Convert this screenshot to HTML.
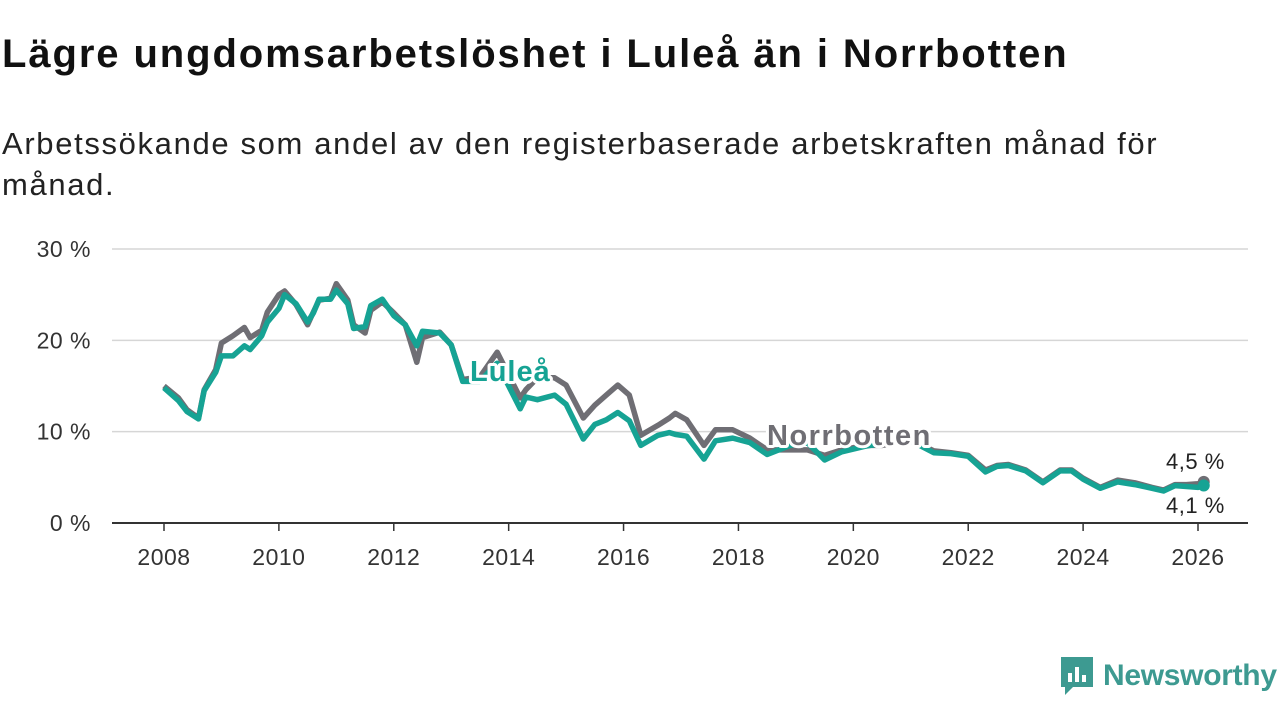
<!DOCTYPE html>
<html><head><meta charset="utf-8">
<style>
body{margin:0;width:1280px;height:720px;background:#fff;font-family:"Liberation Sans",sans-serif;overflow:hidden;position:relative}
h1{position:absolute;left:2px;top:32px;margin:0;font-size:40px;font-weight:bold;color:#111;letter-spacing:1.9px;white-space:nowrap}
.sub{position:absolute;left:2px;top:123px;font-size:31px;color:#222;line-height:41px;width:1200px;letter-spacing:1.65px}
svg{position:absolute;left:0;top:0}
</style></head><body>
<h1>Lägre ungdomsarbetslöshet i Luleå än i Norrbotten</h1>
<div class="sub">Arbetssökande som andel av den registerbaserade arbetskraften månad för månad.</div>
<svg width="1280" height="720" id="chart"></svg>
<script>
const times=[2008.0,2008.25,2008.4,2008.6,2008.7,2008.9,2009.0,2009.2,2009.4,2009.5,2009.7,2009.8,2010.0,2010.1,2010.3,2010.5,2010.6,2010.7,2010.9,2011.0,2011.2,2011.3,2011.5,2011.6,2011.8,2012.0,2012.2,2012.4,2012.5,2012.8,2013.0,2013.2,2013.5,2013.8,2014.2,2014.3,2014.5,2014.8,2015.0,2015.3,2015.5,2015.7,2015.9,2016.1,2016.3,2016.6,2016.8,2016.9,2017.1,2017.4,2017.6,2017.9,2018.2,2018.5,2018.9,2019.2,2019.5,2019.8,2020.2,2020.5,2021.0,2021.4,2021.7,2022.0,2022.3,2022.5,2022.7,2023.0,2023.3,2023.6,2023.8,2024.0,2024.3,2024.6,2024.9,2025.2,2025.4,2025.6,2025.8,2026.0,2026.1];
const norrbotten=[15.0,13.7,12.4,11.5,14.6,16.8,19.7,20.5,21.4,20.3,21.1,23.1,25.0,25.4,23.9,21.7,23.1,24.4,24.6,26.2,24.4,21.7,20.8,23.3,24.2,23.0,21.7,17.6,20.3,20.9,19.5,15.7,16.0,18.7,13.7,14.6,15.9,15.9,15.1,11.5,12.9,14.0,15.1,14.0,9.6,10.7,11.5,12.0,11.3,8.5,10.2,10.2,9.3,8.0,8.0,8.0,7.4,8.0,8.5,8.5,9.1,7.9,7.7,7.4,5.8,6.3,6.4,5.8,4.5,5.8,5.8,4.9,3.9,4.7,4.4,3.9,3.6,4.2,4.2,4.3,4.5];
const lulea=[14.8,13.4,12.2,11.4,14.5,16.5,18.3,18.3,19.4,19.0,20.5,22.0,23.5,25.0,24.0,22.0,23.0,24.5,24.5,25.5,24.0,21.3,21.5,23.8,24.5,22.7,21.7,19.4,21.0,20.8,19.5,15.5,15.5,17.5,12.5,13.8,13.5,14.0,13.0,9.2,10.8,11.3,12.1,11.2,8.5,9.6,9.9,9.7,9.5,7.0,9.0,9.3,8.8,7.5,8.5,8.8,6.9,7.8,8.4,8.7,9.0,7.7,7.6,7.3,5.6,6.2,6.3,5.7,4.4,5.7,5.7,4.8,3.8,4.5,4.2,3.8,3.5,4.1,4.0,3.9,4.1];
const yTicks=[0,10,20,30];
const xTicks=[2008,2010,2012,2014,2016,2018,2020,2022,2024,2026];
const svg=document.getElementById('chart');const NS='http://www.w3.org/2000/svg';
const X=t=>164+(t-2008)*(1198-164)/18;
const Y=v=>523-v*(523-249)/30;
function mk(tag,a,p){const e=document.createElementNS(NS,tag);for(const k in a)e.setAttribute(k,a[k]);(p||svg).appendChild(e);return e;}
yTicks.forEach(v=>{
 const g=mk('line',{x1:112,x2:1248,y1:Y(v),y2:Y(v),stroke:v===0?'#333':'#d6d6d6','stroke-width':v===0?2:1.5});
 
 
 const t=mk('text',{x:91,y:Y(v)+8,'text-anchor':'end','font-size':23,fill:'#333','font-family':'Liberation Sans','letter-spacing':0.5});t.textContent=v+' %';
 
 
});
xTicks.forEach(v=>{
 const l=mk('line',{x1:X(v),x2:X(v),y1:523,y2:531,stroke:'#333','stroke-width':1.5});
 
 
 const t=mk('text',{x:X(v),y:565,'text-anchor':'middle','font-size':23,fill:'#333','font-family':'Liberation Sans','letter-spacing':0.5});t.textContent=v;
 
 
});
function line(vals,col,name){
 const d=vals.map((v,i)=>(i?'L':'M')+X(times[i]).toFixed(1)+','+Y(v).toFixed(1)).join('');
 const p=mk('path',{d:d,fill:'none',stroke:col,'stroke-width':5.5,'stroke-linejoin':'round'});
 
 
 const n=vals.length-1;
 const c=mk('circle',{cx:X(times[n]),cy:Y(vals[n]),r:6,fill:col});
 
 
}
line(norrbotten,'#6f6e74','norrbotten-line');
line(lulea,'#16a394','lulea-line');
function lab(x,y,txt,col,name,size,bold,ls){
 const t=mk('text',{x:x,y:y,'font-size':size,fill:col,'font-weight':bold?'bold':'normal','font-family':'Liberation Sans','letter-spacing':ls,stroke:'#fff','stroke-width':bold?6:4,'paint-order':'stroke','stroke-linejoin':'round'});t.textContent=txt;
 
 
}
lab(470,381,'Luleå','#16a394','lulea-label',29,true,1);
lab(767,445,'Norrbotten','#6f6e74','norrbotten-label',29,true,1.5);
lab(1166,469,'4,5 %','#222','norrbotten-end-value',22,false,0.5);
lab(1166,513,'4,1 %','#222','lulea-end-value',22,false,0.5);
</script>
<div style="position:absolute;left:1059px;top:655px;display:flex;align-items:center">
 <svg width="36" height="42" style="position:static"><path d="M2 2h32v30H14l-8 8v-8H2z" fill="#3d9a91"/><rect x="9" y="18" width="4" height="9" fill="#fff"/><rect x="16" y="12" width="4" height="15" fill="#fff"/><rect x="23" y="20" width="4" height="7" fill="#fff"/></svg>
 <span style="font-size:30px;color:#3d9a91;margin-left:8px;font-weight:bold;letter-spacing:-0.3px">Newsworthy</span>
</div>
</body></html>
